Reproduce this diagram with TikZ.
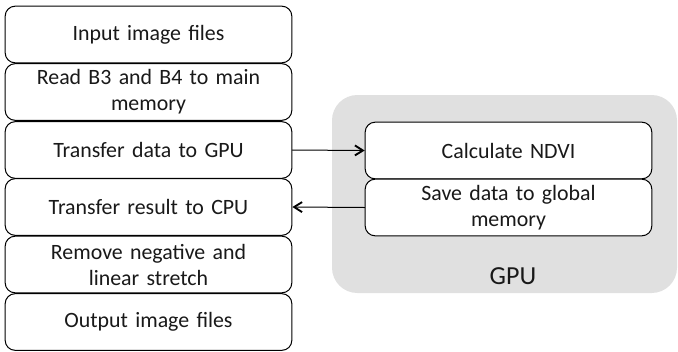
\documentclass[tikz,border=0pt]{standalone}
\usepackage{fontspec}
\setmainfont{Carlito}
\usepackage{tikz}
\usetikzlibrary{arrows.meta}
\definecolor{gpugray}{rgb}{0.88,0.88,0.88}
\definecolor{txtgray}{rgb}{0.1,0.1,0.1}

\tikzset{
  stepbox/.style={draw=black,line width=0.75pt,rounded corners=7.5pt,fill=white,
    minimum width=215pt,minimum height=42.5pt,align=center,text width=205pt,
    text=txtgray,font=\fontsize{16.4}{19.5}\selectfont,inner sep=0pt},
  flow/.style={-{Straight Barb[length=6pt,width=7.5pt,line width=1.4pt]},line width=0.75pt}
}

\begin{document}
\begin{tikzpicture}[line cap=round,line join=round,x=0.75pt,y=-0.75pt]
\useasboundingbox (0,0) rectangle (678,351);
% gpu region
\fill[gpugray,rounded corners=19pt] (332,95) rectangle (677,293);
\node[text=txtgray,font=\fontsize{19.5}{20}\selectfont] (gpulbl) at (513,276) {GPU};
% host side
\node[stepbox] (input) at (148.5,34.5) {Input image files};
\node[stepbox] (read) at (148.5,92) {Read B3 and B4 to main\\memory};
\node[stepbox] (todev) at (148.5,150) {Transfer data to GPU};
\node[stepbox] (tohost) at (148.5,207) {Transfer result to CPU};
\node[stepbox] (stretch) at (148.5,264.5) {Remove negative and\\linear stretch};
\node[stepbox] (output) at (148.5,322) {Output image files};
% device side
\node[stepbox] (ndvi) at (508.5,150.5) {Calculate NDVI};
\node[stepbox] (save) at (508.5,207.5) {Save data to global\\memory};
% transfers
\draw[flow] (todev.east) -- (ndvi.west);
\draw[flow] (save.west) -- (tohost.east);
\end{tikzpicture}
\end{document}
